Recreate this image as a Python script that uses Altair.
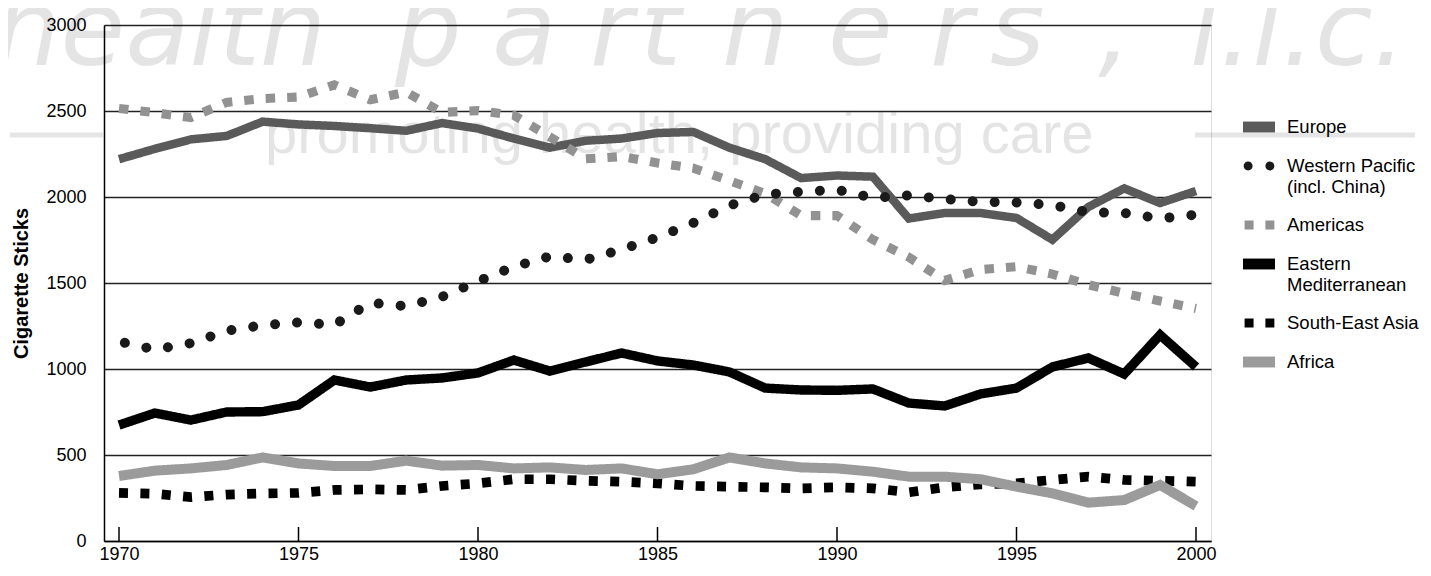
import altair as alt
import pandas as pd

# ---------------- data ----------------
years = list(range(1970, 2001))

europe = [2220, 2280, 2335, 2355, 2438, 2422, 2413, 2400, 2385, 2430, 2398,
          2340, 2287, 2327, 2340, 2372, 2378, 2287, 2220, 2110, 2125,
          2118, 1875, 1907, 1907, 1878, 1752, 1942, 2050, 1965, 2035]
western_pacific = [1160, 1113, 1150, 1222, 1255, 1271, 1257, 1385, 1365, 1420, 1510,
                   1595, 1655, 1635, 1695, 1765, 1850, 1950, 2015, 2030, 2042,
                   1995, 2010, 1988, 1972, 1968, 1953, 1912, 1907, 1875, 1897]
americas = [2515, 2490, 2462, 2550, 2572, 2581, 2652, 2565, 2610, 2492, 2502,
            2475, 2350, 2222, 2235, 2198, 2168, 2095, 2020, 1892, 1892,
            1752, 1650, 1515, 1578, 1595, 1552, 1490, 1440, 1395, 1352]
eastern_med = [674, 744, 703, 750, 752, 791, 936, 895, 936, 948, 977,
               1052, 988, 1041, 1093, 1047, 1023, 983, 889, 878, 876,
               884, 802, 785, 855, 889, 1012, 1064, 971, 1198, 1012]
south_east_asia = [280, 275, 255, 270, 276, 280, 297, 300, 297, 320, 335,
                   359, 359, 350, 345, 335, 320, 316, 312, 306, 312,
                   306, 283, 312, 329, 335, 355, 374, 355, 350, 345]
africa = [378, 409, 422, 442, 486, 451, 436, 436, 467, 438, 442,
          422, 428, 413, 422, 388, 417, 486, 451, 428, 422,
          403, 374, 374, 359, 316, 277, 223, 238, 326, 203]

region_names = ["Europe", "Western Pacific (incl. China)", "Americas",
                "Eastern Mediterranean", "South-East Asia", "Africa"]
x_ticks = [1970, 1975, 1980, 1985, 1990, 1995, 2000]
y_ticks = [0, 500, 1000, 1500, 2000, 2500, 3000]
y_title = "Cigarette Sticks"
wm_word1 = "health"
wm_word2 = "partners,"
wm_word3 = "l.l.c."
wm_slogan = "promoting health, providing care"

# ---------------- table built from the arrays ----------------
series = [europe, western_pacific, americas, eastern_med, south_east_asia, africa]
rows = []
for name, vals in zip(region_names, series):
    for yr, v in zip(years, vals):
        rows.append({"year": yr, "value": v, "region": name})
df = pd.DataFrame(rows)
tick_df = pd.DataFrame({"year": x_ticks})
one_row = pd.DataFrame({"k": [0]})

# ---------------- styling ----------------
W, H = 1107, 516
FONT = "Liberation Sans"
line_colors = ["#5a5a5a", "#1a1a1a", "#929292", "#000000", "#000000", "#9b9b9b"]
dashes = [[1, 0], [0.01, 22], [9.5, 12], [1, 0], [9, 12.4], [1, 0]]
widths = [8.5, 10, 9, 8.5, 9, 8]
rect = "M-1,-0.34H1V0.34H-1Z"
dots = ("M-0.96,0A0.28,0.28,0,1,0,-0.4,0A0.28,0.28,0,1,0,-0.96,0Z"
        "M0.4,0A0.28,0.28,0,1,0,0.96,0A0.28,0.28,0,1,0,0.4,0Z")
squares = "M-0.9,-0.28H-0.34V0.28H-0.9ZM0.4,-0.28H0.96V0.28H0.4Z"
shapes = [rect, dots, squares, rect, squares, rect]

x_scale = alt.Scale(domain=[1970, 2000], padding=15, nice=False, zero=False)
y_scale = alt.Scale(domain=[0, 3000], nice=False)
color_scale = alt.Scale(domain=region_names, range=line_colors)

x_axis = alt.Axis(values=x_ticks, grid=False, ticks=False, format="d", title=None,
                  domainColor="black", domainWidth=1.5, labelFont=FONT,
                  labelFontSize=18, labelColor="black", labelPadding=4)
y_axis = alt.Axis(values=y_ticks, grid=True, gridColor="#222222", gridWidth=1.3,
                  ticks=False, domainColor="black", domainWidth=1.5, format="d",
                  labelFont=FONT, labelFontSize=18, labelColor="black",
                  labelPadding=18, title=y_title, titleFont=FONT, titleFontSize=20,
                  titleFontWeight="bold", titleColor="black", titlePadding=14)

X = alt.X("year:Q", scale=x_scale, axis=x_axis)
Y = alt.Y("value:Q", scale=y_scale, axis=y_axis)

# ---------------- watermark (decoration, placed in pixels) ----------------
wm_base = alt.Chart(one_row)
wm_kw = dict(font="DejaVu Sans", fontSize=105, fontStyle="italic", color="black",
             opacity=0.1, align="left", baseline="alphabetic")
wm_layers = [wm_base.mark_text(text=wm_word1, **wm_kw).encode(x=alt.value(-110), y=alt.value(40))]
for ch, xpos in zip(wm_word2, [291, 388, 486, 536, 618, 724, 826, 886, 994]):
    wm_layers.append(wm_base.mark_text(text=ch, **wm_kw).encode(x=alt.value(xpos), y=alt.value(40)))
wm_layers.append(wm_base.mark_text(text=wm_word3, **wm_kw).encode(x=alt.value(1086), y=alt.value(40)))
wm_layers.append(wm_base.mark_text(text=wm_slogan, font=FONT, fontSize=58, color="black",
                                   opacity=0.1, align="left", baseline="alphabetic").encode(
    x=alt.value(161), y=alt.value(128)))
wm_layers.append(wm_base.mark_rule(color="black", opacity=0.1, strokeWidth=5).encode(
    x=alt.value(-94), x2=alt.value(-1), y=alt.value(110)))
wm_layers.append(wm_base.mark_rule(color="black", opacity=0.1, strokeWidth=5).encode(
    x=alt.value(1091), x2=alt.value(1311), y=alt.value(110)))

# ---------------- data layers ----------------
others = alt.Chart(df).transform_filter(
    alt.datum.region != region_names[1]
).mark_line(strokeCap="butt", strokeJoin="miter").encode(
    x=X, y=Y,
    color=alt.Color("region:N", scale=color_scale, legend=None),
    strokeDash=alt.StrokeDash("region:N", scale=alt.Scale(domain=region_names, range=dashes), legend=None),
    strokeWidth=alt.StrokeWidth("region:O", scale=alt.Scale(domain=region_names, range=widths), legend=None),
    detail="region:N",
)

wp = alt.Chart(df).transform_filter(
    alt.datum.region == region_names[1]
).mark_line(strokeCap="round", strokeWidth=10, strokeDash=[0.01, 22],
            strokeDashOffset=16).encode(
    x=X, y=Y,
    color=alt.Color("region:N", scale=color_scale, legend=None),
)

legend_kw = dict(title=None, orient="none", legendX=1139, legendY=86, padding=0,
                 symbolSize=1024, symbolStrokeWidth=0, symbolOpacity=1,
                 labelFont=FONT, labelFontSize=18.5, labelColor="black", labelOffset=12,
                 labelLimit=300, rowPadding=13,
                 labelExpr=("datum.label == 'Western Pacific (incl. China)' ? "
                            "['Western Pacific', '(incl. China)'] : "
                            "datum.label == 'Eastern Mediterranean' ? "
                            "['Eastern', 'Mediterranean'] : datum.label"))

legend_layer = alt.Chart(df).transform_filter("false").mark_point(
    filled=True, opacity=1
).encode(
    x=X, y=Y,
    color=alt.Color("region:N", scale=color_scale, legend=alt.Legend(**legend_kw)),
    shape=alt.Shape("region:N", scale=alt.Scale(domain=region_names, range=shapes),
                    legend=alt.Legend(**legend_kw)),
)

ticks = alt.Chart(tick_df).mark_rule(color="black", strokeWidth=1.5).encode(
    x=alt.X("year:Q", scale=x_scale, axis=x_axis),
    y=alt.value(H), y2=alt.value(H - 14),
)

chart = alt.layer(
    *wm_layers, others, wp, ticks, legend_layer
).resolve_scale(
    color="independent", shape="independent"
).properties(
    width=W, height=H,
    padding={"left": 96, "top": 17, "right": 208, "bottom": 28},
    autosize=alt.AutoSizeParams(type="none"),
).configure_view(
    stroke="black", strokeWidth=1.5
).configure_axis(
    titleFont=FONT, titleFontSize=20, titleFontWeight="bold", titleColor="black",
    labelFont=FONT, labelFontSize=18, labelColor="black"
).configure(background="white")

chart.save("out.html", embed_options={"renderer": "svg", "actions": False})
